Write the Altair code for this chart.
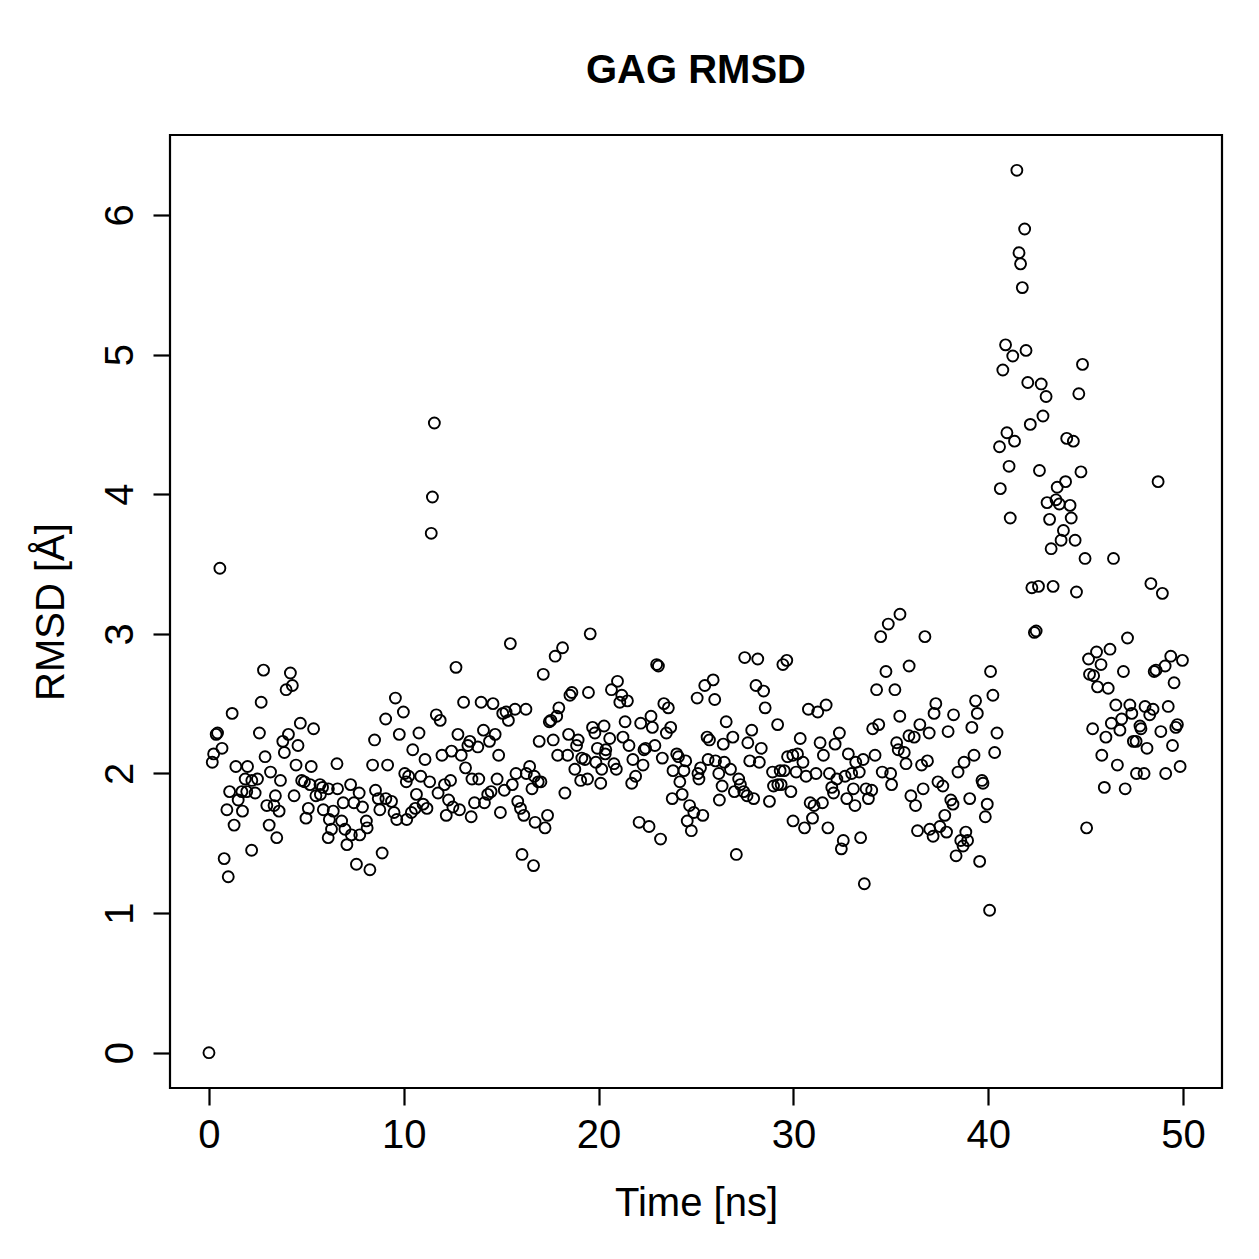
import altair as alt
import pandas as pd

time_ns = [
    0.00, 0.17, 0.24, 0.37, 0.44, 0.56, 0.67, 0.78, 0.92, 0.99,
    1.06, 1.19, 1.29, 1.38, 1.50, 1.69, 1.72, 1.86, 1.94, 1.98,
    2.19, 2.20, 2.37, 2.49, 2.59, 2.68, 2.80, 2.88, 2.97, 3.09,
    3.16, 3.34, 3.41, 3.48, 3.60, 3.67, 3.79, 3.87, 3.96, 4.08,
    4.18, 4.28, 4.37, 4.47, 4.57, 4.69, 4.76, 4.90, 4.98, 5.10,
    5.19, 5.25, 5.37, 5.49, 5.70, 5.72, 5.83, 5.87, 6.12, 6.13,
    6.18, 6.29, 6.38, 6.57, 6.60, 6.81, 6.89, 6.98, 7.08, 7.27,
    7.31, 7.44, 7.57, 7.71, 7.74, 7.88, 8.08, 8.12, 8.26, 8.40,
    8.50, 8.55, 8.69, 8.77, 8.89, 9.07, 9.08, 9.17, 9.37, 9.50,
    9.57, 9.64, 9.77, 9.98, 10.05, 10.13, 10.15, 10.25, 10.39, 10.46,
    10.59, 10.65, 10.78, 10.87, 10.99, 11.09, 11.19, 11.33, 11.41, 11.47,
    11.57, 11.67, 11.76, 11.87, 11.96, 12.09, 12.18, 12.30, 12.40, 12.45,
    12.52, 12.68, 12.78, 12.86, 12.95, 13.07, 13.17, 13.29, 13.39, 13.46,
    13.50, 13.63, 13.80, 13.85, 13.97, 14.09, 14.14, 14.31, 14.40, 14.48,
    14.58, 14.69, 14.79, 14.87, 14.96, 15.08, 15.16, 15.25, 15.37, 15.47,
    15.57, 15.71, 15.76, 15.85, 15.99, 16.07, 16.16, 16.27, 16.29, 16.46,
    16.58, 16.66, 16.70, 16.74, 16.90, 16.95, 17.04, 17.16, 17.25, 17.38,
    17.47, 17.55, 17.67, 17.77, 17.85, 17.90, 17.96, 18.15, 18.27, 18.41,
    18.46, 18.53, 18.63, 18.78, 18.87, 18.95, 19.08, 19.14, 19.30, 19.43,
    19.48, 19.57, 19.69, 19.81, 19.86, 19.94, 20.11, 20.16, 20.28, 20.34,
    20.37, 20.57, 20.66, 20.79, 20.91, 20.97, 21.09, 21.19, 21.25, 21.36,
    21.48, 21.56, 21.70, 21.76, 21.90, 22.08, 22.16, 22.28, 22.33, 22.41,
    22.59, 22.69, 22.76, 22.89, 22.98, 23.07, 23.18, 23.27, 23.35, 23.48,
    23.58, 23.70, 23.78, 23.82, 24.01, 24.10, 24.17, 24.29, 24.38, 24.47,
    24.55, 24.67, 24.76, 24.89, 25.06, 25.10, 25.15, 25.23, 25.35, 25.45,
    25.57, 25.62, 25.69, 25.88, 25.96, 26.00, 26.17, 26.20, 26.34, 26.40,
    26.45, 26.55, 26.77, 26.89, 26.97, 27.07, 27.19, 27.28, 27.45, 27.50,
    27.62, 27.66, 27.76, 27.86, 27.96, 28.08, 28.17, 28.25, 28.35, 28.47,
    28.55, 28.77, 28.93, 28.98, 29.19, 29.20, 29.32, 29.37, 29.46, 29.53,
    29.66, 29.70, 29.87, 29.97, 29.98, 30.14, 30.21, 30.35, 30.49, 30.57,
    30.65, 30.77, 30.86, 30.98, 31.06, 31.16, 31.25, 31.37, 31.49, 31.54,
    31.68, 31.77, 31.85, 31.97, 32.06, 32.14, 32.23, 32.36, 32.46, 32.56,
    32.65, 32.74, 32.82, 32.99, 33.08, 33.16, 33.20, 33.38, 33.45, 33.58,
    33.64, 33.73, 33.85, 34.02, 34.07, 34.19, 34.27, 34.38, 34.48, 34.56,
    34.75, 34.87, 34.99, 35.04, 35.21, 35.46, 35.30, 35.38, 35.47, 35.69,
    35.78, 35.93, 35.94, 36.03, 36.20, 36.27, 36.37, 36.49, 36.58, 36.66,
    36.75, 36.88, 36.97, 37.00, 37.17, 37.22, 37.31, 37.42, 37.52, 37.67,
    37.77, 37.86, 37.94, 38.08, 38.19, 38.22, 38.35, 38.45, 38.59, 38.71,
    38.76, 38.85, 38.94, 39.05, 39.16, 39.27, 39.35, 39.44, 39.56, 39.68,
    39.73, 39.85, 39.95, 40.07, 40.12, 40.24, 40.33, 40.45, 40.58, 40.62,
    40.75, 40.89, 40.96, 41.07, 41.13, 41.26, 41.35, 41.47, 41.58, 41.66,
    41.75, 41.87, 41.94, 42.03, 42.16, 42.24, 42.37, 42.46, 42.58, 42.63,
    42.72, 42.81, 42.97, 43.02, 43.15, 43.23, 43.33, 43.48, 43.54, 43.65,
    43.74, 43.86, 43.97, 44.03, 44.20, 44.26, 44.37, 44.46, 44.53, 44.65,
    44.76, 44.84, 44.97, 45.05, 45.15, 45.20, 45.36, 45.41, 45.56, 45.61,
    45.79, 45.83, 45.96, 46.04, 46.16, 46.25, 46.32, 46.43, 46.55, 46.63,
    46.76, 46.85, 46.94, 47.03, 47.15, 47.27, 47.37, 47.45, 47.59, 47.61,
    47.79, 47.84, 48.00, 48.05, 48.15, 48.29, 48.35, 48.46, 48.52, 48.61,
    48.72, 48.86, 48.94, 49.08, 49.11, 49.24, 49.37, 49.46, 49.54, 49.63,
    49.71, 49.85, 49.97,
]

rmsd_A = [
    0.00, 2.08, 2.14, 2.28, 2.29, 3.47, 2.18, 1.39, 1.74, 1.26,
    1.87, 2.43, 1.63, 2.05, 1.81, 1.87, 1.73, 1.96, 1.87, 2.05,
    1.45, 1.95, 1.86, 1.96, 2.29, 2.51, 2.74, 2.12, 1.77, 1.63,
    2.01, 1.77, 1.84, 1.54, 1.73, 1.95, 2.23, 2.15, 2.60, 2.28,
    2.72, 2.63, 1.84, 2.06, 2.20, 2.36, 1.95, 1.94, 1.68, 1.75,
    1.92, 2.05, 2.32, 1.84, 1.92, 1.85, 1.90, 1.74, 1.54, 1.89,
    1.67, 1.60, 1.73, 2.07, 1.89, 1.66, 1.79, 1.60, 1.49, 1.92,
    1.56, 1.79, 1.35, 1.86, 1.56, 1.76, 1.66, 1.61, 1.31, 2.06,
    2.24, 1.88, 1.82, 1.74, 1.43, 2.39, 1.82, 2.06, 1.80, 1.72,
    2.54, 1.67, 2.28, 2.44, 2.00, 1.94, 1.67, 1.98, 1.72, 2.17,
    1.75, 1.85, 2.29, 1.98, 1.78, 2.10, 1.75, 1.94, 3.72, 3.98,
    4.51, 2.42, 1.86, 2.38, 2.13, 1.92, 1.70, 1.81, 1.95, 2.16,
    1.76, 2.76, 2.28, 1.74, 2.13, 2.51, 2.04, 2.20, 2.23, 1.69,
    1.96, 1.79, 2.19, 1.96, 2.51, 2.31, 1.79, 1.85, 2.23, 1.87,
    2.50, 2.28, 1.96, 2.13, 1.72, 2.43, 1.88, 2.44, 2.38, 2.93,
    1.92, 2.46, 2.00, 1.80, 1.75, 1.42, 1.70, 2.46, 2.00, 2.05,
    1.89, 1.34, 1.98, 1.65, 1.94, 2.23, 1.94, 2.71, 1.61, 1.70,
    2.37, 2.38, 2.24, 2.84, 2.41, 2.13, 2.47, 2.90, 1.86, 2.13,
    2.28, 2.56, 2.58, 2.03, 2.20, 2.24, 1.95, 2.11, 2.10, 1.96,
    2.58, 3.00, 2.33, 2.29, 2.08, 2.18, 1.93, 2.03, 2.34, 2.14,
    2.17, 2.25, 2.60, 2.07, 2.03, 2.66, 2.51, 2.56, 2.26, 2.37,
    2.52, 2.20, 1.93, 2.10, 1.98, 1.65, 2.36, 2.06, 2.17, 2.18,
    1.62, 2.41, 2.33, 2.20, 2.78, 2.77, 1.53, 2.11, 2.50, 2.29,
    2.47, 2.33, 1.82, 2.02, 2.14, 2.12, 1.94, 1.85, 2.02, 2.09,
    1.66, 1.77, 1.59, 1.72, 2.54, 2.00, 1.96, 2.04, 1.70, 2.63,
    2.26, 2.10, 2.24, 2.67, 2.53, 2.09, 2.00, 1.81, 1.91, 2.21,
    2.08, 2.37, 2.03, 2.26, 1.87, 1.42, 1.96, 1.92, 1.87, 2.83,
    1.84, 2.22, 2.09, 2.31, 1.82, 2.63, 2.82, 2.08, 2.18, 2.59,
    2.47, 1.80, 2.01, 1.91, 2.35, 1.92, 2.02, 1.92, 2.78, 2.02,
    2.81, 2.12, 1.87, 2.13, 1.66, 2.01, 2.14, 2.25, 2.08, 1.61,
    1.98, 2.46, 1.79, 1.68, 1.77, 2.00, 2.44, 2.22, 1.79, 2.13,
    2.49, 1.61, 2.00, 1.90, 1.86, 2.21, 1.96, 2.29, 1.46, 1.52,
    1.98, 1.82, 2.14, 2.00, 1.89, 1.77, 2.08, 2.01, 1.54, 2.10,
    1.21, 1.89, 1.82, 1.88, 2.32, 2.13, 2.60, 2.35, 2.98, 2.01,
    2.73, 3.07, 2.00, 1.92, 2.60, 2.41, 2.22, 2.17, 3.14, 2.15,
    2.07, 2.27, 2.77, 1.84, 2.26, 1.77, 1.59, 2.35, 2.06, 1.89,
    2.98, 2.09, 2.29, 1.60, 1.55, 2.43, 2.50, 1.94, 1.62, 1.91,
    1.70, 1.58, 2.30, 1.81, 1.78, 2.42, 1.41, 2.01, 1.52, 1.48,
    2.08, 1.58, 1.52, 1.82, 2.33, 2.13, 2.52, 2.43, 1.37, 1.95,
    1.93, 1.69, 1.78, 1.02, 2.73, 2.56, 2.15, 2.29, 4.34, 4.04,
    4.89, 5.07, 4.44, 4.20, 3.83, 4.99, 4.38, 6.32, 5.73, 5.65,
    5.48, 5.90, 5.03, 4.80, 4.50, 3.33, 3.01, 3.02, 3.34, 4.17,
    4.79, 4.56, 4.70, 3.94, 3.82, 3.61, 3.34, 3.96, 4.05, 3.93,
    3.67, 3.74, 4.09, 4.40, 3.92, 3.83, 4.38, 3.67, 3.30, 4.72,
    4.16, 4.93, 3.54, 1.61, 2.82, 2.71, 2.32, 2.70, 2.87, 2.62,
    2.78, 2.13, 1.90, 2.26, 2.61, 2.89, 2.36, 3.54, 2.49, 2.06,
    2.31, 2.39, 2.73, 1.89, 2.97, 2.49, 2.43, 2.23, 2.23, 2.00,
    2.34, 2.32, 2.00, 2.48, 2.18, 2.42, 3.36, 2.46, 2.73, 2.74,
    4.09, 2.30, 3.29, 2.77, 2.00, 2.48, 2.84, 2.20, 2.65, 2.33,
    2.35, 2.05, 2.81,
]

x_ticks = [0, 10, 20, 30, 40, 50]
y_ticks = [0, 1, 2, 3, 4, 5, 6]

n = min(len(time_ns), len(rmsd_A))
df = pd.DataFrame({"time": time_ns[:n], "rmsd": rmsd_A[:n]})

FONT = "Liberation Sans"

axis_style = dict(
    format="d",
    grid=False,
    domain=False,
    tickSize=17,
    tickWidth=2.2,
    tickColor="black",
    labelFont=FONT,
    labelFontSize=40,
    labelColor="black",
    titleFont=FONT,
    titleFontSize=40,
    titleFontWeight="normal",
    titleColor="black",
)

chart = (
    alt.Chart(df)
    .mark_point(shape="circle", filled=False, color="black", size=120, strokeWidth=1.9, opacity=1)
    .encode(
        x=alt.X(
            "time:Q",
            scale=alt.Scale(domain=[-2, 52], nice=False, zero=False),
            axis=alt.Axis(
                values=x_ticks,
                title="Time [ns]",
                titleX=526,
                titleY=127,
                titleBaseline="alphabetic",
                titleAlign="center",
                labelPadding=10,
                **axis_style,
            ),
        ),
        y=alt.Y(
            "rmsd:Q",
            scale=alt.Scale(domain=[-0.253, 6.573], nice=False, zero=False),
            axis=alt.Axis(
                values=y_ticks,
                title="RMSD [Å]",
                titleAngle=270,
                titleX=-107,
                titleY=476.5,
                titleBaseline="alphabetic",
                titleAlign="center",
                labelAngle=270,
                labelAlign="center",
                labelBaseline="alphabetic",
                labelPadding=21,
                **axis_style,
            ),
        ),
    )
    .properties(
        width=1052,
        height=953,
        background="white",
        title=alt.TitleParams(
            "GAG RMSD",
            font=FONT,
            fontSize=40,
            fontWeight="bold",
            anchor="middle",
            frame="group",
            baseline="alphabetic",
            offset=12,
            color="black",
        ),
        autosize=alt.AutoSizeParams(type="none"),
        padding={"left": 170, "top": 135, "right": 37, "bottom": 171},
    )
    .configure_view(stroke="black", strokeWidth=2.2)
)

chart.save("out.html", embed_options={"renderer": "svg", "actions": False})
